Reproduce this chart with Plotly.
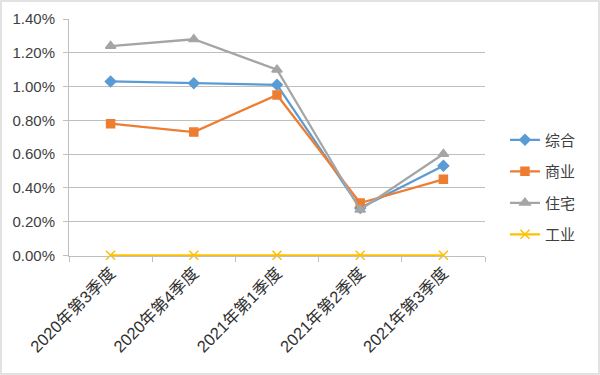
import plotly.graph_objects as go

categories = ["2020年第3季度", "2020年第4季度", "2021年第1季度", "2021年第2季度", "2021年第3季度"]
zonghe = [1.03, 1.02, 1.01, 0.28, 0.53]
shangye = [0.78, 0.73, 0.95, 0.31, 0.45]
zhuzhai = [1.24, 1.28, 1.10, 0.27, 0.60]
gongye = [0.0, 0.0, 0.0, 0.0, 0.0]
y_ticks = [0, 0.2, 0.4, 0.6, 0.8, 1.0, 1.2, 1.4]
y_ticklabels = ["0.00%", "0.20%", "0.40%", "0.60%", "0.80%", "1.00%", "1.20%", "1.40%"]

series = [
    ("综合", zonghe, "#5B9BD5", "diamond", 8),
    ("商业", shangye, "#ED7D31", "square", 8),
    ("住宅", zhuzhai, "#A5A5A5", "triangle-up", 9),
    ("工业", gongye, "#FFC000", "x-thin-open", 9),
]

fig = go.Figure()
for name, vals, color, sym, size in series:
    fig.add_trace(go.Scatter(
        x=categories, y=vals, name=name, mode="lines+markers",
        legendgroup=name, cliponaxis=False,
        line=dict(color=color, width=2.25),
        marker=dict(symbol=sym, size=size, color=color,
                    line=dict(color=color, width=1.5)),
    ))

W, H = 600, 375
L, R, T, B = 69, 115, 19, 119
pw, ph = W - L - R, H - T - B

font = "Liberation Sans, Noto Sans CJK SC, sans-serif"
fig.update_layout(
    width=W, height=H,
    margin=dict(l=L, r=R, t=T, b=B, autoexpand=False),
    paper_bgcolor="white", plot_bgcolor="white",
    font=dict(family=font, size=15, color="#404040"),
    showlegend=True,
    legend=dict(x=1.048, y=(256 - 187) / 237, xanchor="left", yanchor="middle",
                font=dict(size=15, color="#404040"), tracegroupgap=9,
                traceorder="grouped", itemwidth=30,
                bgcolor="rgba(0,0,0,0)"),
    xaxis=dict(type="category", tickangle=-45, showgrid=False,
               automargin=False,
               showline=True, linecolor="#BFBFBF", linewidth=1,
               ticks="outside", tickson="boundaries", ticklen=5,
               tickcolor="#BFBFBF", tickfont=dict(size=16.5, color="#303030"),
               range=[-0.5, 4.5]),
    yaxis=dict(range=[-0.004, 1.4], tickvals=y_ticks, ticktext=y_ticklabels,
               automargin=False, ticklabelstandoff=5,
               showgrid=True, gridcolor="#BFBFBF", gridwidth=1,
               showline=True, linecolor="#BFBFBF", ticks="outside",
               ticklen=5, tickcolor="#BFBFBF", zeroline=False,
               tickfont=dict(size=15, color="#404040")),
)

fig.add_shape(type="rect", xref="paper", yref="paper",
              x0=-(L - 1) / pw, x1=1 + (R - 1) / pw,
              y0=-(B - 1) / ph, y1=1 + (T - 1) / ph,
              line=dict(color="#D9D9D9", width=1.5), fillcolor="rgba(0,0,0,0)",
              layer="below")

fig.write_html("out.html", config={"displayModeBar": False},
               post_script="document.body.style.margin='0';document.body.style.padding='0';")
